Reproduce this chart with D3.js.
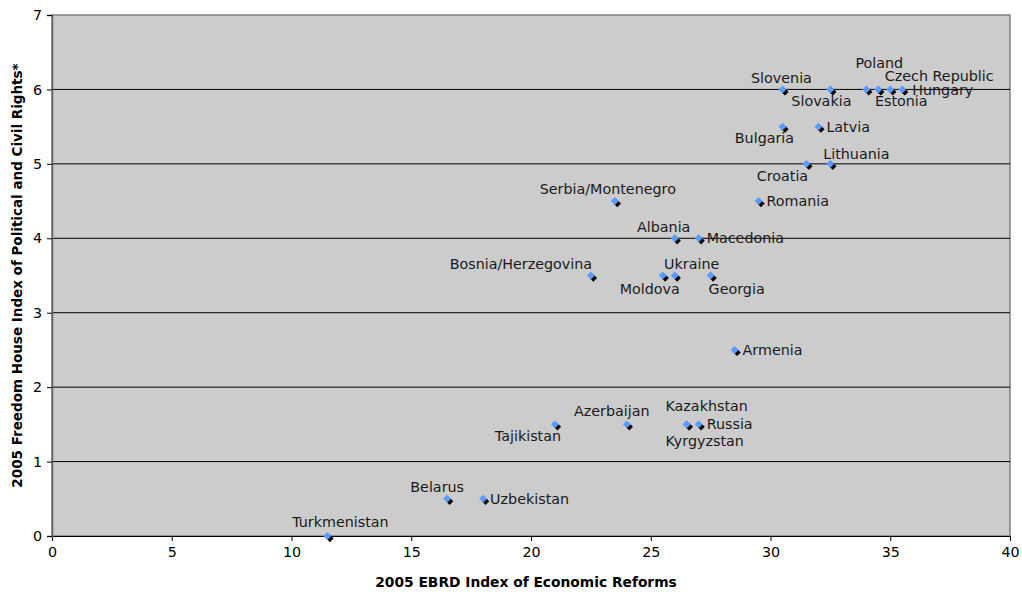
<!DOCTYPE html>
<html>
<head>
<meta charset="utf-8">
<script src="https://cdn.jsdelivr.net/npm/d3@7"></script>
<style>
  body { margin: 0; background: #fff; }
  text { font-family: "DejaVu Sans", Verdana, sans-serif; }
</style>
</head>
<body>
<div id="chart"></div>
<script>
const countries = ["Turkmenistan", "Belarus", "Uzbekistan", "Tajikistan", "Azerbaijan",
  "Kazakhstan", "Kyrgyzstan", "Russia", "Armenia", "Bosnia/Herzegovina", "Moldova",
  "Ukraine", "Georgia", "Albania", "Macedonia", "Serbia/Montenegro", "Romania",
  "Croatia", "Lithuania", "Bulgaria", "Latvia", "Slovenia", "Slovakia", "Poland",
  "Estonia", "Czech Republic", "Hungary"];
const ebrd = [11.5, 16.5, 18, 21, 24, 26.5, 26.5, 27, 28.5, 22.5, 25.5,
  26, 27.5, 26, 27, 23.5, 29.5, 31.5, 32.5, 30.5, 32, 30.5, 32.5, 34,
  34.5, 35, 35.5];
const freedom = [0, 0.5, 0.5, 1.5, 1.5, 1.5, 1.5, 1.5, 2.5, 3.5, 3.5,
  3.5, 3.5, 4, 4, 4.5, 4.5, 5, 5, 5.5, 5.5, 6, 6, 6, 6, 6, 6];
const xTicks = [0, 5, 10, 15, 20, 25, 30, 35, 40];
const yTicks = [0, 1, 2, 3, 4, 5, 6, 7];

const width = 1022;
const height = 592;
const margin = { top: 15, right: 12, bottom: 56, left: 52 };
const fontSize = 14.3;

// where each label sits relative to its marker (dx = text centre, dy = baseline)
const labelPlace = {
  "Turkmenistan": [13, -9, "middle"],
  "Belarus": [-10, -7, "middle"],
  "Uzbekistan": [7, 5, "start"],
  "Tajikistan": [-27, 17, "middle"],
  "Azerbaijan": [-15, -8, "middle"],
  "Kazakhstan": [20, -13, "middle"],
  "Kyrgyzstan": [18, 22, "middle"],
  "Russia": [8, 5, "start"],
  "Armenia": [8, 5, "start"],
  "Bosnia/Herzegovina": [-70, -7, "middle"],
  "Moldova": [-13, 18, "middle"],
  "Ukraine": [17, -7, "middle"],
  "Georgia": [26, 18, "middle"],
  "Albania": [-11, -6, "middle"],
  "Macedonia": [8, 5, "start"],
  "Serbia/Montenegro": [-7, -7, "middle"],
  "Romania": [8, 5, "start"],
  "Croatia": [-24, 17, "middle"],
  "Lithuania": [26, -5, "middle"],
  "Bulgaria": [-18, 16, "middle"],
  "Latvia": [8, 5, "start"],
  "Slovenia": [-1, -6, "middle"],
  "Slovakia": [-9, 17, "middle"],
  "Poland": [13, -21, "middle"],
  "Estonia": [23, 17, "middle"],
  "Czech Republic": [49, -8, "middle"],
  "Hungary": [10, 6, "start"]
};

const svg = d3.select("#chart")
  .append("svg")
  .attr("width", width)
  .attr("height", height);

const x = d3.scaleLinear().domain([0, 40]).range([margin.left, width - margin.right]);
const y = d3.scaleLinear().domain([0, 7]).range([height - margin.bottom, margin.top]);

// plot background
svg.append("rect")
  .attr("x", x(0))
  .attr("y", y(7))
  .attr("width", x(40) - x(0))
  .attr("height", y(0) - y(7))
  .attr("fill", "#cccccc")
  .attr("stroke", "#808080")
  .attr("stroke-width", 1.5);

// gridlines
svg.selectAll(".grid")
  .data(yTicks.filter(d => d > 0 && d < 7))
  .enter()
  .append("line")
  .attr("x1", x(0))
  .attr("x2", x(40))
  .attr("y1", d => y(d))
  .attr("y2", d => y(d))
  .attr("stroke", "#000")
  .attr("stroke-width", 1);

const xAxis = svg.append("g")
  .attr("transform", `translate(0,${y(0)})`)
  .call(d3.axisBottom(x).tickValues(xTicks).tickSize(5).tickPadding(6).tickFormat(d3.format("d")));
const yAxis = svg.append("g")
  .attr("transform", `translate(${x(0)},0)`)
  .call(d3.axisLeft(y).tickValues(yTicks).tickSize(5).tickPadding(5).tickFormat(d3.format("d")));

[xAxis, yAxis].forEach(g => {
  g.select(".domain").attr("stroke", "#000").attr("stroke-width", 1);
  g.selectAll(".tick line").attr("stroke", "#000");
  g.selectAll(".tick text")
    .attr("font-size", fontSize)
    .attr("fill", "#000")
    .style("font-family", "'DejaVu Sans', Verdana, sans-serif");
});
yAxis.select(".domain").attr("stroke", "#606060").attr("stroke-width", 1.5);

// axis titles
svg.append("text")
  .attr("x", (x(0) + x(40)) / 2 - 5)
  .attr("y", 587)
  .attr("text-anchor", "middle")
  .attr("font-size", 13.8)
  .attr("font-weight", "bold")
  .text("2005 EBRD Index of Economic Reforms");

svg.append("text")
  .attr("transform", `translate(22,${(y(0) + y(7)) / 2}) rotate(-90)`)
  .attr("text-anchor", "middle")
  .attr("font-size", 13.5)
  .attr("font-weight", "bold")
  .text("2005 Freedom House Index of Political and Civil Rights*");

const idx = d3.range(countries.length);
const diamond = d3.symbol().type(d3.symbolDiamond2);

// marker shadows
svg.selectAll(".shadow")
  .data(idx)
  .enter()
  .append("path")
  .attr("d", diamond.size(34)())
  .attr("transform", i => `translate(${x(ebrd[i]) + 2.5},${y(freedom[i]) + 2.5})`)
  .attr("fill", "#000");

// markers
svg.selectAll(".marker")
  .data(idx)
  .enter()
  .append("path")
  .attr("d", diamond.size(40)())
  .attr("transform", i => `translate(${x(ebrd[i])},${y(freedom[i])})`)
  .attr("fill", "#5a9bff");

// labels
svg.selectAll(".label")
  .data(idx)
  .enter()
  .append("text")
  .attr("x", i => x(ebrd[i]) + labelPlace[countries[i]][0])
  .attr("y", i => y(freedom[i]) + labelPlace[countries[i]][1])
  .attr("text-anchor", i => labelPlace[countries[i]][2])
  .attr("font-size", fontSize)
  .attr("fill", "#1a1a1a")
  .text(i => countries[i]);
</script>
</body>
</html>
